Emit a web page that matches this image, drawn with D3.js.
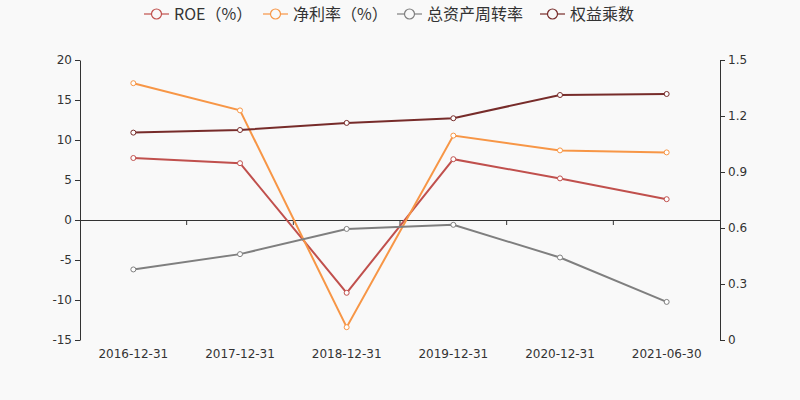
<!DOCTYPE html>
<html><head><meta charset="utf-8">
<script src="https://cdn.jsdelivr.net/npm/d3@7"></script>
<style>body{margin:0;background:#f9f9f9;}svg{display:block;font-family:"Noto Sans CJK SC","DejaVu Sans",sans-serif;}</style>
</head><body><svg id="c" width="800" height="400"></svg>
<script>
const categories = ["2016-12-31","2017-12-31","2018-12-31","2019-12-31","2020-12-31","2021-06-30"];
const roe = [7.75, 7.1, -9.1, 7.6, 5.2, 2.6];
const netMargin = [17.1, 13.7, -13.4, 10.55, 8.7, 8.45];
const assetTurnover = [0.378, 0.46, 0.595, 0.617, 0.442, 0.204];
const equityMultiplier = [1.111, 1.125, 1.163, 1.188, 1.3125, 1.318];
const leftTicks = [-15,-10,-5,0,5,10,15,20];
const rightTicks = [0,0.3,0.6,0.9,1.2,1.5];
const seriesNames = ["ROE（%）","净利率（%）","总资产周转率","权益乘数"];
const colors = ["#c0504d","#f79646","#7f7f7f","#772c2a"];

const svg = d3.select("#c");
const L=80,R=720,T=60,B=340;
const x = d3.scaleBand().domain(categories).range([L,R]);
const yL = d3.scaleLinear().domain([-15,20]).range([B,T]);
const yR = d3.scaleLinear().domain([0,1.5]).range([B,T]);

const axisColor="#333";
const gl = svg.append("g").attr("transform",`translate(${L},0)`).call(d3.axisLeft(yL).tickValues(leftTicks).tickSize(5).tickSizeOuter(0).tickFormat(d=>String(d)));
const gr = svg.append("g").attr("transform",`translate(${R},0)`).call(d3.axisRight(yR).tickValues(rightTicks).tickSize(5).tickSizeOuter(0).tickFormat(d=>d===0?"0":d3.format(".1f")(d)));
const gx = svg.append("g").attr("transform",`translate(0,${yL(0)})`).call(d3.axisBottom(x).tickSize(5).tickSizeOuter(0).tickFormat(""));
gx.selectAll(".tick").remove();
gx.selectAll("line.bt").data(categories.slice(1)).enter().append("line").attr("class","bt")
  .attr("x1",d=>x(d)).attr("x2",d=>x(d)).attr("y1",0).attr("y2",5).attr("stroke",axisColor);
[gl,gr,gx].forEach(g=>{g.select(".domain").attr("stroke",axisColor);g.selectAll("line").attr("stroke",axisColor);g.selectAll("text").attr("fill","#333").style("font-size","12px").style("font-family","'DejaVu Sans',sans-serif");});
gl.selectAll("text").attr("x",-8);
gr.selectAll("text").attr("x",8);
svg.append("g").selectAll("text").data(categories).enter().append("text")
  .attr("x",d=>x(d)+x.bandwidth()/2).attr("y",358).attr("text-anchor","middle")
  .attr("fill","#333").style("font-size","12px").style("font-family","'DejaVu Sans',sans-serif").text(d=>d);

const series = [
  {vals:roe,y:yL},{vals:netMargin,y:yL},{vals:assetTurnover,y:yR},{vals:equityMultiplier,y:yR}
];
series.forEach((s,i)=>{
  const line = d3.line().x((d,j)=>x(categories[j])+x.bandwidth()/2).y(d=>s.y(d));
  svg.append("path").datum(s.vals).attr("d",line).attr("fill","none").attr("stroke",colors[i]).attr("stroke-width",2);
  svg.append("g").selectAll("circle").data(s.vals).enter().append("circle")
    .attr("cx",(d,j)=>x(categories[j])+x.bandwidth()/2).attr("cy",d=>s.y(d)).attr("r",2.5)
    .attr("fill","#fff").attr("stroke",colors[i]).attr("stroke-width",1);
});

// legend (layout positions)
const legendX = [144, 263, 397, 540];
const lg = svg.append("g");
seriesNames.forEach((n,i)=>{
  const cx = legendX[i];
  const g = lg.append("g");
  g.append("line").attr("x1",cx).attr("x2",cx+25).attr("y1",14).attr("y2",14).attr("stroke",colors[i]).attr("stroke-width",1.5).attr("opacity",0.8);
  g.append("circle").attr("cx",cx+12.5).attr("cy",14).attr("r",5).attr("fill","#f9f9f9").attr("stroke",colors[i]).attr("stroke-width",1.2);
  g.append("text").attr("x",cx+30).attr("y",20).attr("fill","#333")
    .style("font-size","16px").style("font-family","'Noto Sans CJK SC',sans-serif").text(n);
});
</script></body></html>
